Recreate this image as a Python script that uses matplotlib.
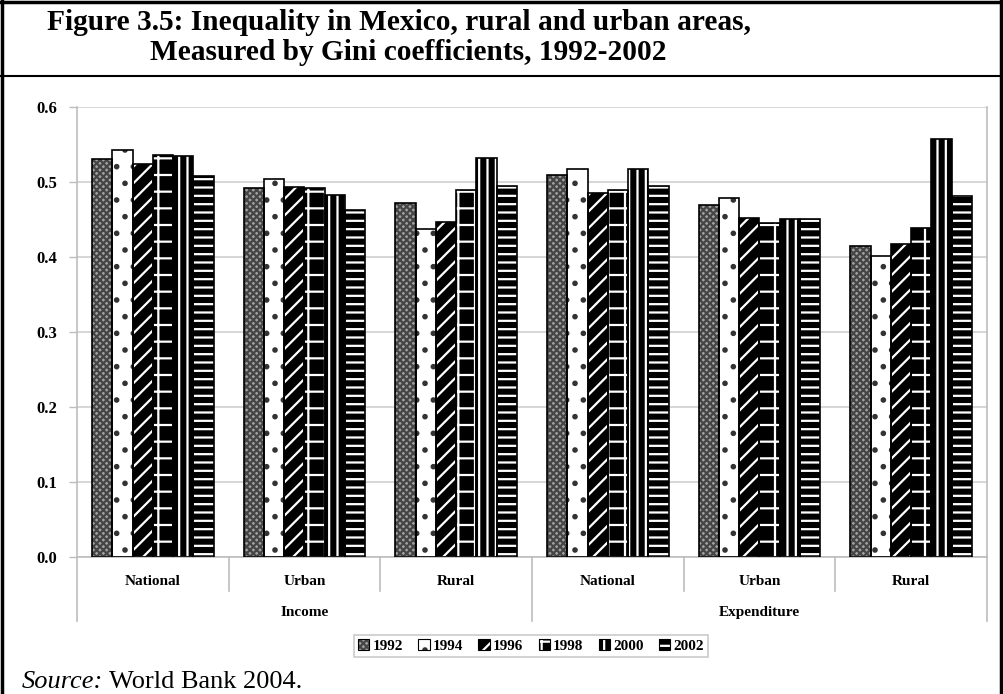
import numpy as np
import matplotlib.pyplot as plt
from matplotlib.patches import Patch
from matplotlib.lines import Line2D
from matplotlib.legend_handler import HandlerTuple
from matplotlib.transforms import blended_transform_factory

plt.rcParams['font.family'] = ['Liberation Serif', 'DejaVu Serif']
plt.rcParams['hatch.linewidth'] = 1.6

# -----------------------------------------------------------------------------
# Gini coefficients by year
# -----------------------------------------------------------------------------
categories = ['National', 'Urban', 'Rural', 'National', 'Urban', 'Rural']
groups = ['Income', 'Expenditure']
years = ['1992', '1994', '1996', '1998', '2000', '2002']

gini_1992 = [0.531, 0.492, 0.472, 0.510, 0.469, 0.415]
gini_1994 = [0.543, 0.504, 0.438, 0.517, 0.479, 0.401]
gini_1996 = [0.524, 0.493, 0.447, 0.485, 0.452, 0.417]
gini_1998 = [0.536, 0.492, 0.489, 0.490, 0.445, 0.439]
gini_2000 = [0.535, 0.483, 0.532, 0.517, 0.451, 0.557]
gini_2002 = [0.508, 0.463, 0.495, 0.495, 0.451, 0.481]

series = [gini_1992, gini_1994, gini_1996, gini_1998, gini_2000, gini_2002]

# fill colour, hatch, hatch colour for each year
styles = [
    ('#a2a2a2', 'xxxxx', '#454545'),
    ('white', '.', '#333333'),
    ('black', '//', 'white'),
    ('black', '+', 'white'),
    ('black', '||', 'white'),
    ('black', '--', 'white'),
]

W, H = 1004, 694
fig = plt.figure(figsize=(W / 100, H / 100), dpi=100)

# plot area
x0, x1, ytop, ybot = 77, 987, 107, 557
ax = fig.add_axes([x0 / W, 1 - ybot / H, (x1 - x0) / W, (ybot - ytop) / H])

x = np.arange(len(categories))
bw = 0.134
for i, vals in enumerate(series):
    fc, hatch, hc = styles[i]
    pos = x + (i - 2.5) * bw
    ax.bar(pos, vals, bw, color=fc, edgecolor=hc, hatch=hatch, linewidth=0, zorder=2)
    ax.bar(pos, vals, bw, fill=False, edgecolor='black', linewidth=1.2, zorder=3)

ax.set_xlim(-0.5, len(categories) - 0.5)
ax.set_ylim(0, 0.6)
ax.set_yticks(np.arange(0, 0.61, 0.1))
ax.set_yticklabels(['%.1f' % v for v in np.arange(0, 0.61, 0.1)],
                   fontsize=12, fontweight='bold')
ax.tick_params(axis='y', length=6, width=1, color='#bdbdbd', pad=8)
ax.set_xticks([])
ax.grid(axis='y', color='#cfcfcf', linewidth=1.2, zorder=0)
ax.set_axisbelow(True)

for side in ['left', 'right', 'bottom']:
    ax.spines[side].set_color('#bdbdbd')
    ax.spines[side].set_linewidth(1.2)
ax.spines['top'].set_visible(False)

# category labels and separators below the axis
tr = blended_transform_factory(ax.transData, ax.transAxes)
for k, name in enumerate(categories):
    ax.text(x[k], -0.055, name, transform=tr, ha='center', va='center',
            fontsize=11, fontweight='bold')
for b in np.arange(-0.5, len(categories), 1.0):
    long_line = b in (-0.5, 2.5, 5.5)
    ax.plot([b, b], [0, -0.142 if long_line else -0.076], transform=tr,
            color='#bdbdbd', linewidth=1.2, clip_on=False)
for g, name in enumerate(groups):
    ax.text(1 + 3 * g, -0.124, name, transform=tr, ha='center', va='center',
            fontsize=11, fontweight='bold')

# legend: hatched swatch with a black outline on top
handles = [(Patch(facecolor=s[0], edgecolor=s[2], hatch=s[1], linewidth=0),
            Patch(fill=False, edgecolor='black', linewidth=0.8))
           for s in styles]
leg = fig.legend(handles, years, loc='center', bbox_to_anchor=(531 / W, 1 - 646 / H),
                 ncol=6, frameon=True, fancybox=False, edgecolor='#bdbdbd',
                 prop={'weight': 'bold', 'size': 11}, handlelength=0.75,
                 handleheight=0.75, handletextpad=0.2, columnspacing=1.0,
                 borderpad=0.25, borderaxespad=0,
                 handler_map={tuple: HandlerTuple(ndivide=1, pad=0)})
leg.get_frame().set_linewidth(1.2)

# title box and frame
fig.text(47 / W, 1 - 23 / H, 'Figure 3.5: Inequality in Mexico, rural and urban areas,',
         fontsize=21.2, fontweight='bold', va='center', ha='left')
fig.text(150 / W, 1 - 52 / H, 'Measured by Gini coefficients, 1992-2002',
         fontsize=21.2, fontweight='bold', va='center', ha='left')
frame = dict(color='black', linewidth=2.5, transform=fig.transFigure)
fig.add_artist(Line2D([2 / W, 2 / W], [0, 1], **frame))
fig.add_artist(Line2D([1001 / W, 1001 / W], [0, 1], **frame))
fig.add_artist(Line2D([0, 1], [1 - 1.5 / H, 1 - 1.5 / H], **frame))
fig.add_artist(Line2D([0, 1], [1 - 76 / H, 1 - 76 / H], color='black',
                      linewidth=1.5, transform=fig.transFigure))

# source note
src = fig.text(22 / W, 1 - 682 / H, 'Source:', fontsize=19, fontstyle='italic',
               va='center', ha='left')
fig.add_artist(plt.Annotation('World Bank 2004.', xy=(1, 0.5), xycoords=src,
                              xytext=(4, 0), textcoords='offset points',
                              fontsize=19, va='center', ha='left'))

fig.savefig('out.png', dpi=100)
